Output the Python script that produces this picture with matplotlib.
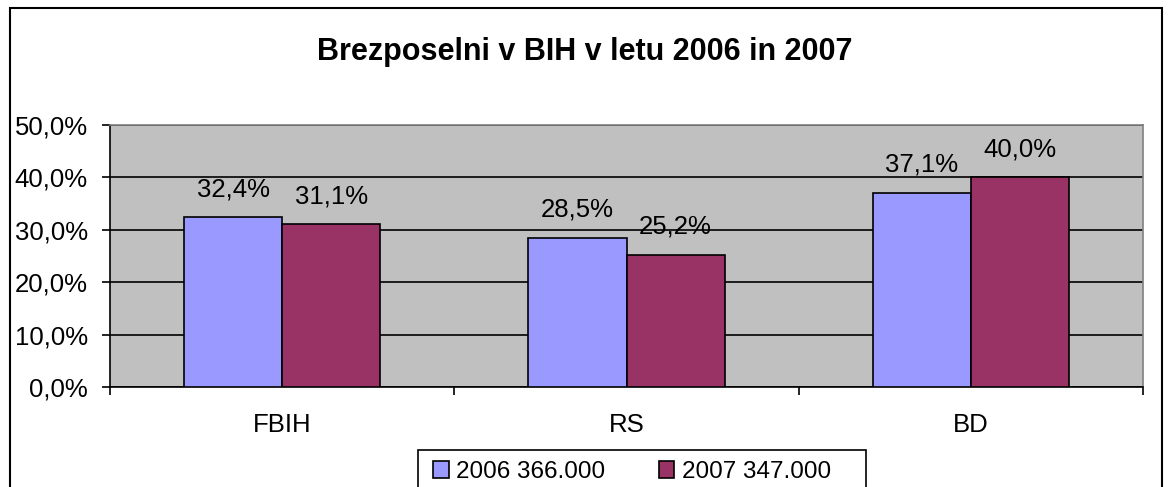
import matplotlib.pyplot as plt
from matplotlib.patches import Rectangle
from matplotlib.ticker import FuncFormatter
import numpy as np

plt.rcParams['font.family'] = ['Liberation Sans', 'DejaVu Sans']

categories = ['FBIH', 'RS', 'BD']
series_names = ['2006 366.000', '2007 347.000']
vals_2006 = [32.4, 28.5, 37.1]
vals_2007 = [31.1, 25.2, 40.0]
colors = ['#9999FF', '#993366']

fig = plt.figure(figsize=(11.7, 4.87), dpi=100)
ax = fig.add_axes([110 / 1170, 100 / 487, 1033 / 1170, 262 / 487])
ax.set_facecolor('#C0C0C0')

x = np.arange(len(categories))
w = 0.285
for i, (vals, name) in enumerate([(vals_2006, series_names[0]), (vals_2007, series_names[1])]):
    pos = x + (i - 0.5) * w
    ax.bar(pos, vals, width=w, color=colors[i], edgecolor='black', linewidth=1.2,
           label=name, zorder=3)
    for p, v in zip(pos, vals):
        ax.text(p, v + 5.35, f'{v:.1f}%'.replace('.', ','), ha='center', va='center',
                fontsize=18.5, zorder=4)

ax.set_ylim(0, 50)
ax.set_xlim(-0.5, 2.5)
ax.set_yticks(np.arange(0, 51, 10))
ax.yaxis.set_major_formatter(FuncFormatter(lambda v, _: f'{v:.1f}%'.replace('.', ',')))
ax.grid(axis='y', color='black', linewidth=1.2, zorder=1)
ax.tick_params(axis='y', labelsize=18.5, length=6, width=1.2, pad=10)

ax.set_xticks(x)
ax.set_xticklabels(categories, fontsize=18.5)
ax.tick_params(axis='x', which='major', length=0, pad=19)
ax.set_xticks([-0.5, 0.5, 1.5, 2.5], minor=True)
ax.tick_params(axis='x', which='minor', length=6, width=1.2)

for s in ['left', 'bottom']:
    ax.spines[s].set_color('black')
    ax.spines[s].set_linewidth(1.2)
for s in ['top', 'right']:
    ax.spines[s].set_color('#808080')
    ax.spines[s].set_linewidth(1.2)

fig.text(0.5, 1 - 52 / 487, 'Brezposelni v BIH v letu 2006 in 2007', ha='center', va='center',
         fontsize=22, fontweight='bold')

# legend entries without frame; the box is drawn separately (Excel pads it unevenly)
leg = fig.legend(loc='center left', bbox_to_anchor=(433 / 1170, 1 - 472 / 487), ncol=2,
                 fontsize=17.5, frameon=False,
                 handlelength=0.65, handleheight=0.65, handletextpad=0.3, columnspacing=2.2,
                 borderpad=0, borderaxespad=0)
fig.patches.append(Rectangle((418 / 1170, -0.05), 448 / 1170, 0.05 + 37 / 487,
                             transform=fig.transFigure, fill=False, edgecolor='black',
                             linewidth=1.2))

# outer chart border
fig.patches.append(Rectangle((10 / 1170, -0.05), 1152 / 1170, 1.05 - 8 / 487,
                             transform=fig.transFigure, fill=False, edgecolor='black',
                             linewidth=1.5))

fig.savefig('out.png', dpi=100)
